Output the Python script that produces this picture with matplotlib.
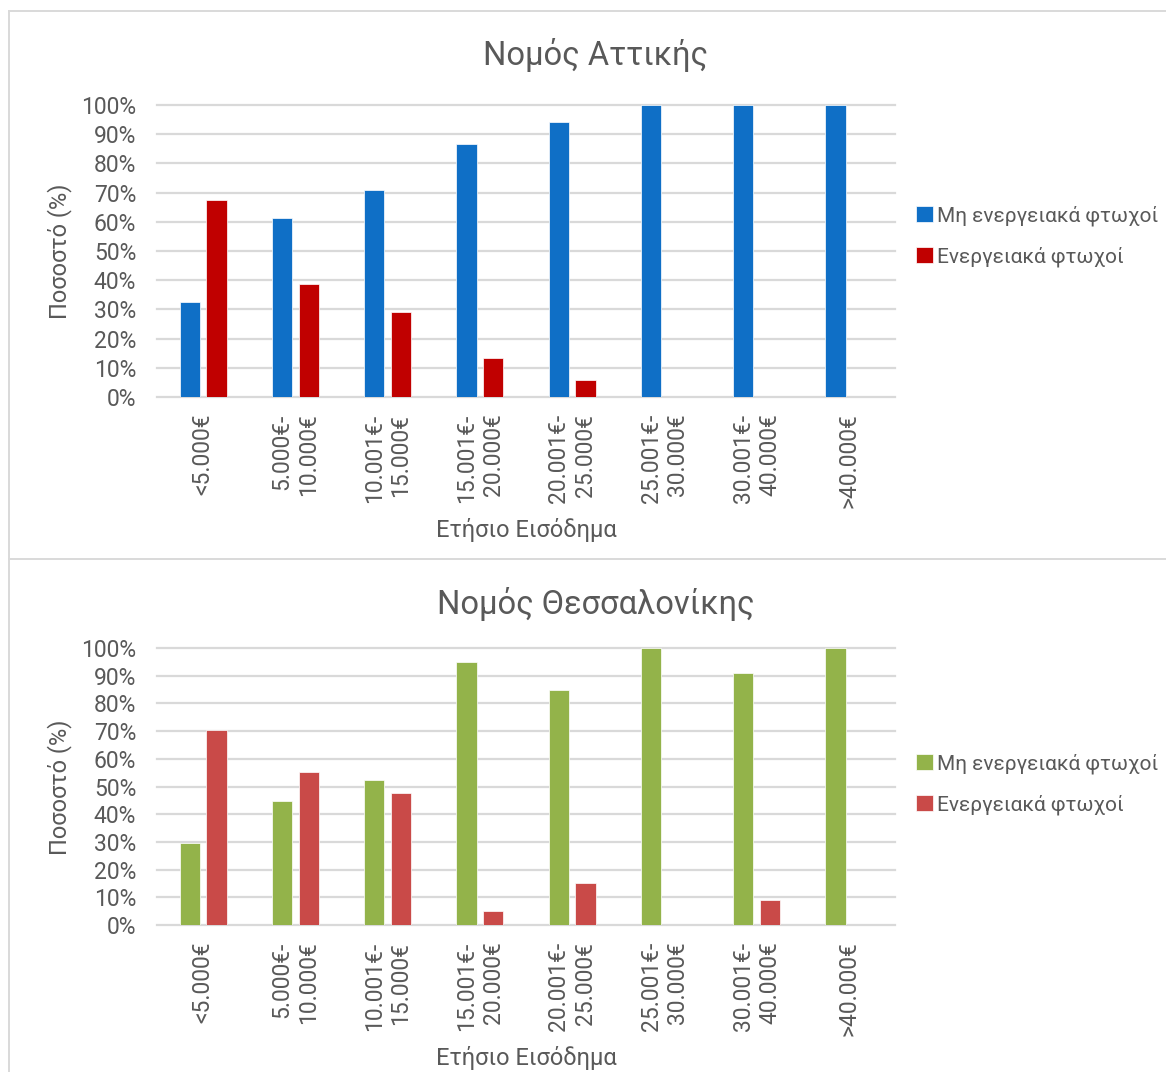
import numpy as np
import matplotlib
matplotlib.use('Agg')
import matplotlib.pyplot as plt
from matplotlib.ticker import PercentFormatter
from matplotlib.lines import Line2D

plt.rcParams['font.family'] = ['Roboto', 'DejaVu Sans']

# Income bands and shares per prefecture
categories = ['<5.000€', '5.000€-\n10.000€', '10.001€-\n15.000€', '15.001€-\n20.000€',
              '20.001€-\n25.000€', '25.001€-\n30.000€', '30.001€-\n40.000€', '>40.000€']
series_names = ['Μη ενεργειακά φτωχοί', 'Ενεργειακά φτωχοί']

attiki_not_poor = [32.5, 61.3, 70.9, 86.6, 94.3, 100, 100, 100]
attiki_poor = [67.5, 38.7, 29.1, 13.4, 5.7, 0, 0, 0]

thess_not_poor = [29.5, 44.7, 52.3, 95.1, 84.8, 100, 90.9, 100]
thess_poor = [70.5, 55.3, 47.7, 4.9, 15.2, 0, 9.1, 0]

TEXT = '#595959'
GRID = '#D9D9D9'

fig = plt.figure(figsize=(11.66, 10.72), dpi=100)
W, H = 1166, 1072


def px_axes(x0, y0, x1, y1):
    # pixel box (from top-left) -> figure axes
    return fig.add_axes([x0 / W, 1 - y1 / H, (x1 - x0) / W, (y1 - y0) / H])


def px_line(xs, ys):
    fig.add_artist(Line2D([x / W for x in xs], [1 - y / H for y in ys],
                          transform=fig.transFigure, color=GRID, linewidth=1.4))


def draw_panel(ax, title, vals_a, vals_b, colors, title_y, ylab_y, xlab_y, leg_y):
    x = np.arange(len(categories))
    w = 0.22
    off = 0.145
    ax.bar(x - off, np.array(vals_a) / 100, w, color=colors[0], label=series_names[0],
           edgecolor='white', linewidth=0.5, zorder=3)
    ax.bar(x + off, np.array(vals_b) / 100, w, color=colors[1], label=series_names[1],
           edgecolor='white', linewidth=0.5, zorder=3)

    ax.set_xlim(-0.5, len(categories) - 0.5)
    ax.set_ylim(0, 1.0)
    ax.set_yticks(np.arange(0, 1.01, 0.1))
    ax.yaxis.set_major_formatter(PercentFormatter(1.0, decimals=0))
    ax.set_xticks(x)
    ax.set_xticklabels(categories, rotation=90, va='top', ha='center', multialignment='right')
    ax.tick_params(axis='both', length=0, labelsize=16.5, colors=TEXT)
    ax.tick_params(axis='x', pad=12)
    ax.tick_params(axis='y', pad=15)
    for s in ax.spines.values():
        s.set_visible(False)
    ax.yaxis.grid(True, color=GRID, linewidth=1.6, zorder=0)
    for gl in ax.get_ygridlines():
        gl.set_clip_on(False)
    ax.set_axisbelow(True)

    fig.text(596 / W, 1 - title_y / H, title, ha='center', va='center', fontsize=23.5, color=TEXT)
    fig.text(60 / W, 1 - ylab_y / H, 'Ποσοστό (%)', rotation=90, ha='center', va='center',
             fontsize=17, color=TEXT)
    fig.text(526 / W, 1 - xlab_y / H, 'Ετήσιο Εισόδημα', ha='center', va='center',
             fontsize=17, color=TEXT)

    ax.legend(loc='center left', bbox_to_anchor=(916 / W, 1 - leg_y / H),
              bbox_transform=fig.transFigure, frameon=False, fontsize=15,
              handlelength=0.8, handleheight=0.8, handletextpad=0.2,
              labelspacing=1.0, labelcolor=TEXT, borderpad=0, borderaxespad=0)


ax1 = px_axes(157, 105, 895, 397)
draw_panel(ax1, 'Νομός Αττικής', attiki_not_poor, attiki_poor, ['#0F6FC6', '#C00000'],
           title_y=55, ylab_y=251, xlab_y=530, leg_y=236)

ax2 = px_axes(157, 648, 895, 925)
draw_panel(ax2, 'Νομός Θεσσαλονίκης', thess_not_poor, thess_poor, ['#93B34A', '#C94A48'],
           title_y=604, ylab_y=787, xlab_y=1058, leg_y=784)

# chart frames: left edge, top edge, divider between the two charts
px_line([8.5, 8.5], [11, H])
px_line([8.5, W], [11, 11])
px_line([8.5, W], [559, 559])

fig.savefig('out.png', dpi=100, facecolor='white')
